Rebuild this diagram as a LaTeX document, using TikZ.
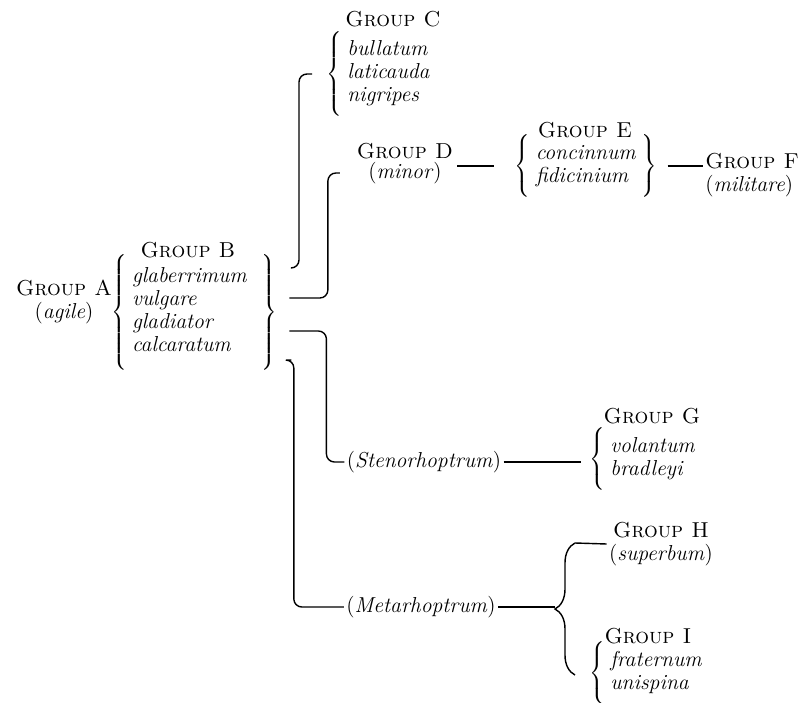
\documentclass[tikz,border=0pt]{standalone}
\usetikzlibrary{decorations.pathreplacing}
\delimitershortfall=-8pt

\begin{document}
\begin{tikzpicture}[line width=0.8pt,
    every node/.style={font=\fontsize{12.3}{13.1}\selectfont,inner sep=1pt},
    grp/.style={font=\fontsize{12.3}{13.1}\selectfont\scshape},
    link/.style={rounded corners=0.16cm},
    bigbrace/.style={decorate,decoration={brace,amplitude=0.4cm}}]

    \useasboundingbox (0,0) rectangle (16.16,-14.06);

    % Group A and B
    \node [align=center] (grpA) at (1.28,-6.04) {\textsc{Group A}\\(\textit{agile})};
    \node [grp] (grpB) at (3.76,-5.00) {Group B};
    \node (listB) at (3.88,-6.24) {\(\left\{\begin{tabular}{@{\hspace{3pt}}l@{\hspace{0.28cm}}}\textit{glaberrimum}\\ \textit{vulgare}\\ \textit{gladiator}\\ \textit{calcaratum}\end{tabular}\right\}\)};

    % Group C
    \node [grp] (grpC) at (7.86,-0.38) {Group C};
    \node [anchor=west] (listC) at (6.48,-1.48) {\(\left\{\begin{tabular}{@{\hspace{3pt}}l@{}}\textit{bullatum}\\ \textit{laticauda}\\ \textit{nigripes}\end{tabular}\right.\)};

    % Group D, E, F
    \node [grp] (grpD) at (8.10,-3.02) {Group D};
    \node (minD) at (8.10,-3.46) {(\textit{minor})};
    \node [grp] (grpE) at (11.70,-2.60) {Group E};
    \node (listE) at (11.72,-3.32) {\(\left\{\begin{tabular}{@{\hspace{3pt}}l@{\hspace{3pt}}}\textit{concinnum}\\ \textit{fidicinium}\end{tabular}\right\}\)};
    \node [align=left,anchor=west] (grpF) at (14.06,-3.50) {\textsc{Group F}\\(\textit{militare})};

    % Stenorhoptrum and Group G
    \node (steno) at (8.48,-9.24) {(\textit{Stenorhoptrum})};
    \node [grp] (grpG) at (13.04,-8.32) {Group G};
    \node [anchor=west] (listG) at (11.74,-9.18) {\(\left\{\begin{tabular}{@{\hspace{3pt}}l@{}}\textit{volantum}\\ \textit{bradleyi}\end{tabular}\right.\)};

    % Metarhoptrum, Group H and I
    \node (meta) at (8.42,-12.14) {(\textit{Metarhoptrum})};
    \node [align=center] (grpH) at (13.22,-10.88) {\textsc{Group H}\\(\textit{superbum})};
    \node [grp] (grpI) at (12.96,-12.72) {Group I};
    \node [anchor=west] (listI) at (11.74,-13.46) {\(\left\{\begin{tabular}{@{\hspace{3pt}}l@{}}\textit{fraternum}\\ \textit{unispina}\end{tabular}\right.\)};

    % Brackets out of B
    \draw[link] ([shift={(0.24,0.88)}]listB.east) -| ([xshift=-0.50cm]listC.west) -- ([xshift=-0.24cm]listC.west);
    \draw[link] ([shift={(0.20,0.28)}]listB.east) -| ([xshift=-0.76cm]minD.west) -- ([xshift=-0.52cm]minD.west);
    \draw[link] ([shift={(0.20,-0.38)}]listB.east) -| ([xshift=-0.36cm]steno.west) -- (steno.west);
    \draw[link] ([shift={(0.24,-0.96)}]listB.east) -| ([xshift=-1.00cm]meta.west) -- (meta.west);

    % Connecting lines
    \draw ([xshift=0.26cm]minD.east |- listE.west) -- ([xshift=-0.36cm]listE.west);
    \draw ([xshift=0.16cm]listE.east) -- (listE.east -| grpF.west);
    \draw (steno.east) -- ([xshift=-0.12cm]steno.east -| listG.west);

    % Large brace to H and I
    \coordinate (bigTop) at (11.50,-10.86);
    \coordinate (bigBot) at (11.50,-13.50);
    \coordinate (bigTip) at (11.10,-12.18);
    \draw[bigbrace] (bigBot) -- (bigTop);
    \draw (bigTop) -- (grpH.west);
    \draw (meta.east) -- (meta.east -| bigTip);

\end{tikzpicture}
\end{document}
